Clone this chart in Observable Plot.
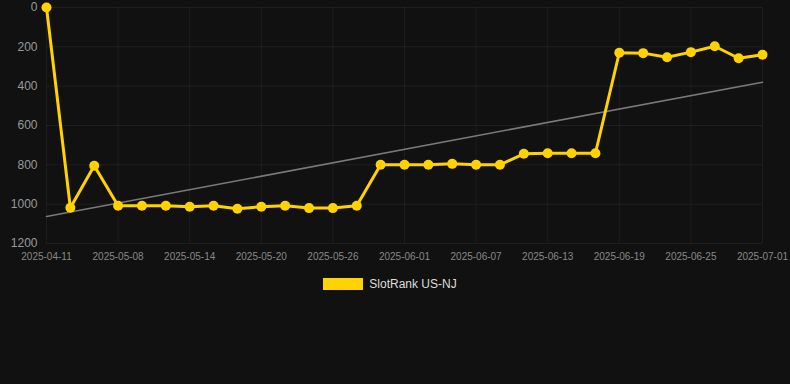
<!DOCTYPE html>
<html>
<head>
<meta charset="utf-8">
<script src="https://cdn.jsdelivr.net/npm/d3@7"></script>
<script src="https://cdn.jsdelivr.net/npm/@observablehq/plot@0.6"></script>
<style>
  html, body { margin: 0; padding: 0; background: #111111; width: 790px; height: 384px; overflow: hidden; }
  #chart svg { display: block; }
  .legend { display: flex; justify-content: center; align-items: center; gap: 6px; margin-top: 9px; padding-right: 10px;
    font-family: "Liberation Sans", Arial, sans-serif; font-size: 12px; color: #dddddd; }
  .legend .sw { width: 40px; height: 12px; background: #FFD200; }
</style>
</head>
<body>
<div id="chart"></div>
<div class="legend"><span class="sw"></span><span>SlotRank US-NJ</span></div>
<script>
const dates = [
  "2025-04-11", "2025-05-04", "2025-05-06", "2025-05-08", "2025-05-10", "2025-05-12",
  "2025-05-14", "2025-05-16", "2025-05-18", "2025-05-20", "2025-05-22", "2025-05-24",
  "2025-05-26", "2025-05-28", "2025-05-30", "2025-06-01", "2025-06-03", "2025-06-05",
  "2025-06-07", "2025-06-09", "2025-06-11", "2025-06-13", "2025-06-15", "2025-06-17",
  "2025-06-19", "2025-06-21", "2025-06-23", "2025-06-25", "2025-06-27", "2025-06-29",
  "2025-07-01"
];
const ranks = [
  0, 1018, 805, 1008, 1008, 1008, 1013, 1008, 1023, 1013, 1008, 1020, 1020, 1008,
  800, 800, 800, 795, 800, 800, 744, 741, 741, 741,
  230, 232, 253, 227, 197, 258, 240
];
const yTicks = [0, 200, 400, 600, 800, 1000, 1200];
const seriesName = "SlotRank US-NJ";

const data = dates.map((d, i) => ({i, date: d, rank: ranks[i]}));
const xTicks = d3.range(0, dates.length, 3);

const chart = Plot.plot({
  width: 790,
  height: 268,
  marginLeft: 46,
  marginRight: 28,
  marginTop: 7,
  marginBottom: 25,
  style: {background: "#111111", color: "#999999", fontFamily: "'Liberation Sans', Arial, sans-serif", fontSize: "12px"},
  x: {domain: [0, dates.length - 1], label: null},
  y: {domain: [0, 1200], reverse: true, label: null},
  marks: [
    Plot.gridX(xTicks, {stroke: "#ffffff", strokeOpacity: 0.05}),
    Plot.gridY(yTicks, {stroke: "#ffffff", strokeOpacity: 0.06}),
    Plot.axisY(yTicks, {tickSize: 0, tickPadding: 9, tickFormat: d => String(d), fill: "#999999", fontSize: 12, label: null}),
    Plot.axisX(xTicks, {tickSize: 0, tickPadding: 9, tickFormat: i => dates[i], fill: "#888888", fontSize: 10, label: null}),
    Plot.linearRegressionY(data, {x: "i", y: "rank", stroke: "#7a7a7a", strokeWidth: 1.6, ci: 0}),
    Plot.line(data, {x: "i", y: "rank", stroke: "#FFD200", strokeWidth: 3}),
    Plot.dot(data, {x: "i", y: "rank", r: 5, fill: "#FFD200", stroke: "none"})
  ]
});
document.getElementById("chart").appendChild(chart);
document.querySelector(".legend span:last-child").textContent = seriesName;
</script>
</body>
</html>
